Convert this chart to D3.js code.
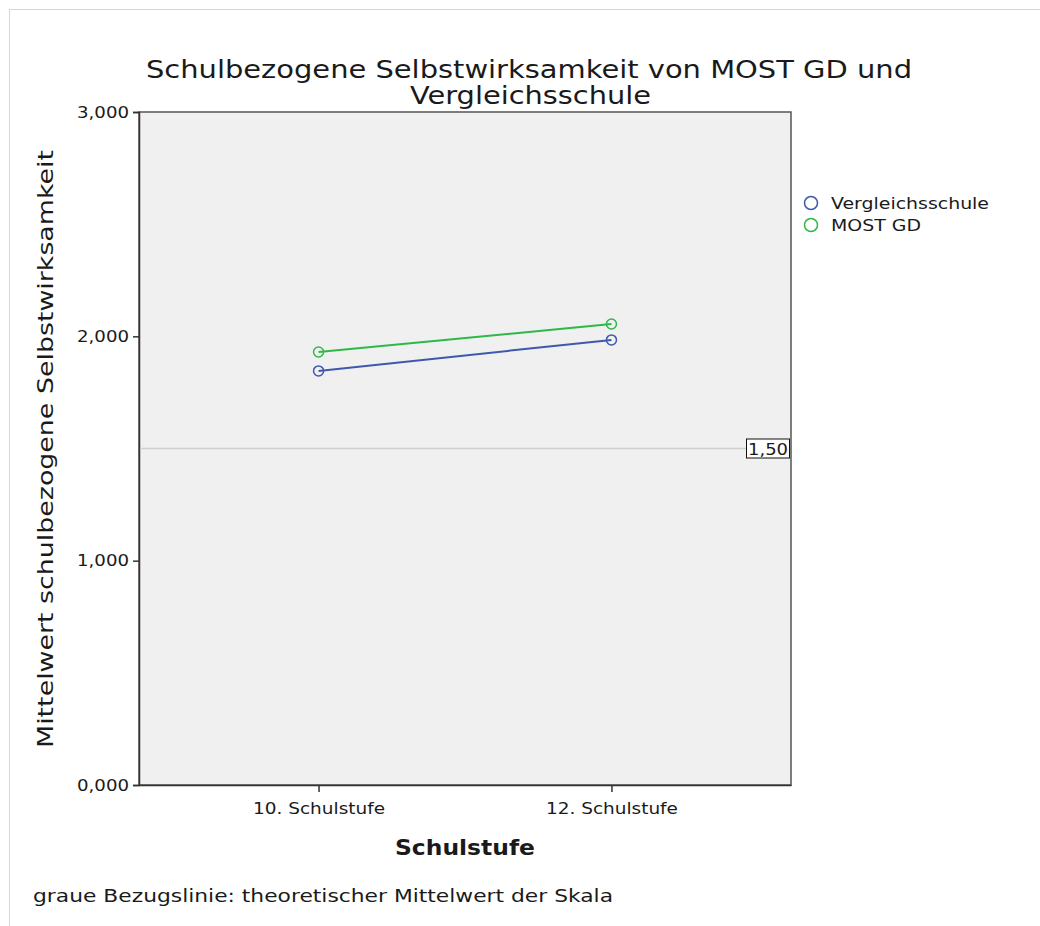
<!DOCTYPE html>
<html>
<head>
<meta charset="utf-8">
<script src="https://cdn.jsdelivr.net/npm/d3@7"></script>
<style>
  body { margin: 0; background: #fff; }
  text { font-family: "DejaVu Sans", Verdana, sans-serif; fill: #1a1a1a; }
</style>
</head>
<body>
<svg width="1040" height="926"></svg>
<script>
var stufen = ["10. Schulstufe", "12. Schulstufe"];
var serien = ["Vergleichsschule", "MOST GD"];
var vergleich = [1.846, 1.984];
var most = [1.930, 2.055];
var yTicks = [0, 1, 2, 3];
var refWert = 1.5;

var farben = { "Vergleichsschule": "#3e58ac", "MOST GD": "#2eb848" };

var svg = d3.select("svg"),
    pLeft = 139, pRight = 791, pTop = 112, pBottom = 785;

// Text auf Breite bringen (SPSS-Schrift ist breiter)
function breite(sel, w) {
  sel.attr("textLength", w).attr("lengthAdjust", "spacingAndGlyphs");
  return sel;
}

// Rahmen aussen
svg.append("rect")
  .attr("x", 9.5).attr("y", 9.5)
  .attr("width", 1040).attr("height", 1000)
  .attr("fill", "none").attr("stroke", "#d6d6d6");

var x = d3.scalePoint().domain(stufen).range([pLeft, pRight]).padding(0.613);
var y = d3.scaleLinear().domain([0, 3]).range([pBottom, pTop]);

// Plotfläche
svg.append("rect")
  .attr("x", pLeft).attr("y", pTop)
  .attr("width", pRight - pLeft).attr("height", bottomH())
  .attr("fill", "#f0f0f0").attr("stroke", "#555").attr("stroke-width", 1.5);
function bottomH() { return pBottom - pTop; }

// Titel
breite(svg.append("text").attr("x", 146).attr("y", 78).style("font-size", "24px"), 766)
  .text("Schulbezogene Selbstwirksamkeit von MOST GD und");
breite(svg.append("text").attr("x", 410).attr("y", 104).style("font-size", "24px"), 241)
  .text("Vergleichsschule");

// Achsen
var yAxis = svg.append("g")
  .attr("transform", "translate(" + pLeft + ",0)")
  .call(d3.axisLeft(y).tickValues(yTicks).tickSize(6)
    .tickFormat(function(d) { return d3.format(".3f")(d).replace(".", ","); }));
yAxis.select(".domain").attr("stroke", "#333").attr("stroke-width", 1.5);
yAxis.selectAll("line").attr("stroke", "#333").attr("stroke-width", 1.5);
breite(yAxis.selectAll("text").style("font-family", "'DejaVu Sans', sans-serif")
  .style("font-size", "15px").attr("dy", "0.35em").attr("x", -10).attr("fill", "#1a1a1a"), 52);

var xAxis = svg.append("g")
  .attr("transform", "translate(0," + pBottom + ")")
  .call(d3.axisBottom(x).tickSize(7).tickSizeOuter(0));
xAxis.select(".domain").attr("stroke", "#333").attr("stroke-width", 1.5);
xAxis.selectAll("line").attr("stroke", "#333").attr("stroke-width", 1.5);
breite(xAxis.selectAll("text").style("font-family", "'DejaVu Sans', sans-serif")
  .style("font-size", "15px").attr("y", 18).attr("fill", "#1a1a1a"), 132);

// Achsentitel
breite(svg.append("text")
  .attr("transform", "translate(53,748) rotate(-90)")
  .style("font-size", "22px"), 598)
  .text("Mittelwert schulbezogene Selbstwirksamkeit");

breite(svg.append("text")
  .attr("x", 395).attr("y", 855)
  .style("font-size", "22px").style("font-weight", "bold"), 140)
  .text("Schulstufe");

breite(svg.append("text")
  .attr("x", 33).attr("y", 902)
  .style("font-size", "17px"), 580)
  .text("graue Bezugslinie: theoretischer Mittelwert der Skala");

// Bezugslinie
svg.append("line")
  .attr("x1", pLeft + 1).attr("x2", pRight - 1)
  .attr("y1", y(refWert)).attr("y2", y(refWert))
  .attr("stroke", "#d0d0d0").attr("stroke-width", 1.5);
svg.append("rect")
  .attr("x", 746.5).attr("y", y(refWert) - 9.5)
  .attr("width", 43).attr("height", 19)
  .attr("fill", "#fff").attr("stroke", "#111");
breite(svg.append("text")
  .attr("x", 748).attr("y", y(refWert) + 6)
  .style("font-size", "16px"), 40)
  .text(d3.format(".2f")(refWert).replace(".", ","));

// Linien
var daten = [
  { name: "Vergleichsschule", werte: vergleich },
  { name: "MOST GD", werte: most }
];
var linie = d3.line()
  .x(function(d, i) { return x(stufen[i]); })
  .y(function(d) { return y(d); });

daten.forEach(function(s) {
  svg.append("path")
    .datum(s.werte)
    .attr("d", linie)
    .attr("fill", "none")
    .attr("stroke", farben[s.name])
    .attr("stroke-width", 2);
  svg.selectAll(null)
    .data(s.werte)
    .enter().append("circle")
    .attr("cx", function(d, i) { return x(stufen[i]); })
    .attr("cy", function(d) { return y(d); })
    .attr("r", 5)
    .attr("fill", "none")
    .attr("stroke", farben[s.name])
    .attr("stroke-width", 1.5);
});

// Legende
var legendBreite = { "Vergleichsschule": 158, "MOST GD": 90 };
var legende = svg.append("g").attr("transform", "translate(811,203)");
serien.forEach(function(name, i) {
  var g = legende.append("g").attr("transform", "translate(0," + i * 22 + ")");
  g.append("circle").attr("r", 6.5).attr("fill", "none")
    .attr("stroke", farben[name]).attr("stroke-width", 1.5);
  breite(g.append("text").attr("x", 20).attr("y", 6).style("font-size", "16px"), legendBreite[name])
    .text(name);
});
</script>
</body>
</html>
